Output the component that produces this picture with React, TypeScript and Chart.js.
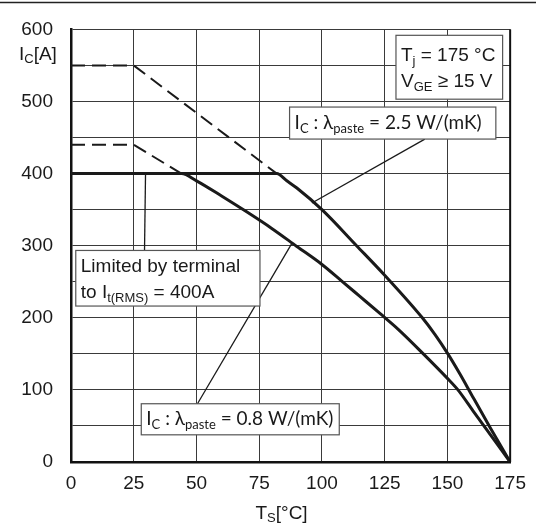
import React, { useEffect, useRef } from "react";
import { Chart, registerables } from "chart.js";

Chart.register(...registerables);

// ---- data ----
const xTickValues = [0, 25, 50, 75, 100, 125, 150, 175];
const yTickValues = [0, 100, 200, 300, 400, 500, 600];

const tempUpper = [0, 82, 86, 90, 100, 113.8, 125, 140, 145, 150, 155, 160, 167, 175];
const icUpper = [400, 400, 390, 380, 350, 300, 259, 200, 177, 151, 122, 91, 48, 0];

const tempLower = [0, 44, 50, 60, 70, 80, 90, 100, 107.9, 115, 123.1, 130.4, 140.4, 150, 154.2, 160.2, 175];
const icLower = [400, 400, 390, 369, 347, 324, 299, 274, 251, 230, 206, 184, 150, 116, 100, 71, 0];

const tempDashHigh = [0, 25, 82];
const icDashHigh = [550, 550, 400];

const tempDashLow = [0, 25, 44];
const icDashLow = [440, 440, 400];

const toXY = (xs: number[], ys: number[]) => xs.map((x, i) => ({ x, y: ys[i] }));

type Part = [string, boolean];

const ARIAL = '"Liberation Sans", Arial, sans-serif';
const CAL = 'Lato, "Open Sans", sans-serif';
const INK = "#1a1a1a";

function drawRich(
  ctx: CanvasRenderingContext2D,
  parts: Part[],
  x: number,
  y: number,
  size: number,
  subSize: number,
  subDy: number,
  family: string
) {
  let cx = x;
  ctx.textBaseline = "alphabetic";
  ctx.textAlign = "left";
  ctx.fillStyle = INK;
  for (const [t, sub] of parts) {
    ctx.font = `${sub ? subSize : size}px ${family}`;
    ctx.fillText(t, cx, sub ? y + subDy : y);
    cx += ctx.measureText(t).width;
  }
  return cx - x;
}

function richWidth(ctx: CanvasRenderingContext2D, parts: Part[], size: number, subSize: number, family: string) {
  let w = 0;
  for (const [t, sub] of parts) {
    ctx.font = `${sub ? subSize : size}px ${family}`;
    w += ctx.measureText(t).width;
  }
  return w;
}

// annotation boxes in data coordinates
const boxes = [
  {
    x0: 129.5, x1: 172.0, y0: 591.8, y1: 503.2,
    lines: [
      [["T", false], ["j", true], [" = 175 °C", false]],
      [["V", false], ["GE", true], [" ≥ 15 V", false]],
    ] as Part[][],
    size: 19, sub: 13, family: ARIAL,
  },
  {
    x0: 87.1, x1: 169.3, y0: 492.3, y1: 447.9,
    lines: [[["I", false], ["C", true], [" : λ", false], ["paste", true], [" = 2.5 W/(mK)", false]]] as Part[][],
    size: 19, sub: 13, family: CAL,
  },
  {
    x0: 1.9, x1: 75.3, y0: 293.4, y1: 216.3,
    lines: [
      [["Limited by terminal", false]],
      [["to I", false], ["t(RMS)", true], [" = 400A", false]],
    ] as Part[][],
    size: 19, sub: 13, family: ARIAL,
  },
  {
    x0: 28.0, x1: 106.9, y0: 80.8, y1: 37.7,
    lines: [[["I", false], ["C", true], [" : λ", false], ["paste", true], [" = 0.8 W/(mK)", false]]] as Part[][],
    size: 19, sub: 13, family: CAL,
  },
];

const leaders = [
  { xa: 141.0, ya: 447.9, xb: 96.0, yb: 359.3 },
  { xa: 29.7, ya: 400, xb: 29.3, yb: 293.4 },
  { xa: 87.9, ya: 302.5, xb: 50.4, yb: 80.8 },
];

const annotPlugin = {
  id: "annot",
  afterDatasetsDraw(chart: any) {
    const ctx: CanvasRenderingContext2D = chart.ctx;
    const xs = chart.scales.x;
    const ys = chart.scales.y;
    const ca = chart.chartArea;
    ctx.save();
    // right border
    ctx.strokeStyle = "#111";
    ctx.lineWidth = 2;
    ctx.beginPath();
    ctx.moveTo(ca.right, ca.top);
    ctx.lineTo(ca.right, ca.bottom);
    ctx.stroke();

    // leader lines
    ctx.strokeStyle = INK;
    ctx.lineWidth = 1.3;
    for (const l of leaders) {
      ctx.beginPath();
      ctx.moveTo(xs.getPixelForValue(l.xa), ys.getPixelForValue(l.ya));
      ctx.lineTo(xs.getPixelForValue(l.xb), ys.getPixelForValue(l.yb));
      ctx.stroke();
    }
    // boxes
    for (const b of boxes) {
      const px0 = xs.getPixelForValue(b.x0);
      const px1 = xs.getPixelForValue(b.x1);
      const py0 = ys.getPixelForValue(b.y0);
      const py1 = ys.getPixelForValue(b.y1);
      ctx.fillStyle = "#fff";
      ctx.fillRect(px0, py0, px1 - px0, py1 - py0);
      ctx.strokeStyle = "#555";
      ctx.lineWidth = 1.2;
      ctx.strokeRect(px0, py0, px1 - px0, py1 - py0);
      const h = py1 - py0;
      const n = b.lines.length;
      const lineGap = n === 2 ? 26.5 : 0;
      const firstBase = py0 + h / 2 + b.size * 0.36 - (lineGap * (n - 1)) / 2 - (n === 2 ? 0 : 1);
      b.lines.forEach((parts, i) => {
        drawRich(ctx, parts, px0 + 5, firstBase + i * lineGap, b.size, b.sub, 4, b.family);
      });
    }

    ctx.restore();
  },
  afterDraw(chart: any) {
    const ctx: CanvasRenderingContext2D = chart.ctx;
    const ca = chart.chartArea;
    ctx.save();
    // top page rule
    ctx.strokeStyle = "#222";
    ctx.lineWidth = 1.5;
    ctx.beginPath();
    ctx.moveTo(0, 2.5);
    ctx.lineTo(chart.width, 2.5);
    ctx.stroke();
    // y title
    drawRich(ctx, [["I", false], ["C", true], ["[A]", false]], 19, 59.5, 19, 13, 3, ARIAL);
    // x title
    const xt: Part[] = [["T", false], ["S", true], ["[°C]", false]];
    const w = richWidth(ctx, xt, 19, 13, ARIAL);
    drawRich(ctx, xt, (ca.left + ca.right) / 2 - 9 - w / 2, 519, 19, 13, 3, ARIAL);
    ctx.restore();
  },
};

export default function App() {
  const ref = useRef<HTMLCanvasElement>(null);
  useEffect(() => {
    document.body.style.margin = "0";
    const chart = new Chart(ref.current!, {
      type: "line",
      data: {
        datasets: [
          {
            data: toXY(tempDashHigh, icDashHigh),
            borderColor: INK,
            borderWidth: 2,
            borderDash: [14, 7],
            pointRadius: 0,
            fill: false,
          },
          {
            data: toXY(tempDashLow, icDashLow),
            borderColor: INK,
            borderWidth: 2,
            borderDash: [14, 7],
            pointRadius: 0,
            fill: false,
          },
          {
            data: toXY(tempLower, icLower),
            borderColor: INK,
            borderWidth: 3,
            pointRadius: 0,
            cubicInterpolationMode: "monotone",
            fill: false,
          },
          {
            data: toXY(tempUpper, icUpper),
            borderColor: INK,
            borderWidth: 3,
            pointRadius: 0,
            cubicInterpolationMode: "monotone",
            fill: false,
          },
        ],
      },
      options: {
        responsive: false,
        animation: false,
        events: [],
        layout: { padding: { top: 22, right: 23, left: 0, bottom: 0 } },
        plugins: { legend: { display: false }, tooltip: { enabled: false }, title: { display: false } },
        scales: {
          x: {
            type: "linear",
            min: 0,
            max: 175,
            afterBuildTicks: (s: any) => {
              s.ticks = xTickValues.map((v) => ({ value: v }));
            },
            afterFit: (s: any) => {
              s.height = 61;
            },
            ticks: {
              color: INK,
              font: { family: ARIAL, size: 19 },
              padding: 10,
              maxRotation: 0,
              autoSkip: false,
            },
            grid: { color: "#3a3a3a", lineWidth: 1, drawTicks: false },
            border: { display: true, color: "#111", width: 2.5 },
          },
          y: {
            type: "linear",
            min: 0,
            max: 600,
            afterBuildTicks: (s: any) => {
              const t = [];
              for (let v = 0; v <= 600; v += 50) t.push({ value: v });
              s.ticks = t;
            },
            afterFit: (s: any) => {
              s.width = 71;
            },
            ticks: {
              color: INK,
              font: { family: ARIAL, size: 19 },
              padding: 18,
              autoSkip: false,
              callback: (v: any) => (yTickValues.includes(Number(v)) ? String(v) : ""),
            },
            grid: { color: "#3a3a3a", lineWidth: 1, drawTicks: false },
            border: { display: true, color: "#111", width: 2.5 },
          },
        },
      },
      plugins: [annotPlugin],
    });
    return () => chart.destroy();
  }, []);
  return (
    <div style={{ position: "fixed", left: 0, top: 0, width: 536, height: 523, background: "#fff" }}>
      <canvas ref={ref} width={536} height={523} style={{ display: "block", width: 536, height: 523 }} />
    </div>
  );
}
